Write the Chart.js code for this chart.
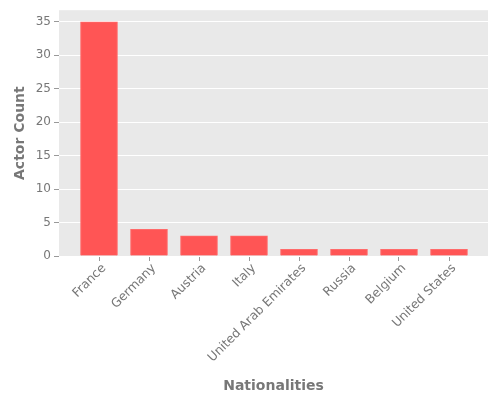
<!DOCTYPE html>
<html>
<head>
<meta charset="utf-8">
<script src="https://cdn.jsdelivr.net/npm/chart.js@4.4.0/dist/chart.umd.min.js"></script>
<style>
  html, body { margin: 0; padding: 0; background: #fff; }
  #wrap { width: 500px; height: 400px; }
</style>
</head>
<body>
<div id="wrap"><canvas id="chart"></canvas></div>
<script>
const nationalities = ['France', 'Germany', 'Austria', 'Italy', 'United Arab Emirates', 'Russia', 'Belgium', 'United States'];
const actorCounts = [35, 4, 3, 3, 1, 1, 1, 1];
const countTicks = [0, 5, 10, 15, 20, 25, 30, 35];

const tickColor = '#777';
const titleColor = '#777';

// grey plot panel behind the bars, ggplot style
const panelBackground = {
  id: 'panelBackground',
  beforeDraw(chart) {
    const {ctx, chartArea: a} = chart;
    ctx.save();
    ctx.fillStyle = '#e9e9e9';
    ctx.fillRect(a.left, a.top, a.right - a.left, a.bottom - a.top);
    ctx.restore();
  },
};

Chart.defaults.font.family = '"DejaVu Sans", sans-serif';

new Chart(document.querySelector('#chart'), {
  type: 'bar',
  data: {
    datasets: [{
      data: actorCounts.map((v, i) => ({x: i, y: v})),
      backgroundColor: '#ff5555',
      borderColor: '#ff6b6b',
      borderWidth: 1,
      barThickness: 37,
    }],
  },
  options: {
    responsive: true,
    maintainAspectRatio: false,
    animation: false,
    layout: {
      padding: {left: 12, right: 12, top: 10, bottom: 0},
    },
    plugins: {
      legend: {display: false},
      tooltip: {enabled: false},
    },
    scales: {
      x: {
        type: 'linear',
        offset: false,
        min: -0.8,
        max: 7.78,
        afterBuildTicks: (scale) => {
          scale.ticks = nationalities.map((_, i) => ({value: i}));
        },
        afterFit: (scale) => { scale.height = 144; },
        ticks: {
          color: tickColor,
          font: {size: 12.4},
          maxRotation: 45,
          minRotation: 45,
          padding: 0,
          labelOffset: 5,
          callback: (value) => nationalities[value],
        },
        grid: {
          offset: false,
          drawOnChartArea: false,
          tickColor: '#999',
          tickLength: 5,
        },
        border: {display: false},
        title: {
          display: true,
          text: 'Nationalities',
          color: titleColor,
          font: {size: 14, weight: 'bold'},
          padding: {top: 4, bottom: 5},
        },
      },
      y: {
        min: 0,
        max: 36.75,
        afterBuildTicks: (scale) => {
          scale.ticks = countTicks.map(v => ({value: v}));
        },
        afterFit: (scale) => { scale.width = 47; },
        ticks: {
          color: tickColor,
          font: {size: 12},
          padding: 3,
        },
        grid: {
          color: '#ffffff',
          lineWidth: 1,
          tickColor: '#999',
          tickLength: 5,
        },
        border: {display: false},
        title: {
          display: true,
          text: 'Actor Count',
          color: titleColor,
          font: {size: 14, weight: 'bold'},
          padding: {top: 0, bottom: 0},
        },
      },
    },
  },
  plugins: [panelBackground],
});
</script>
</body>
</html>
